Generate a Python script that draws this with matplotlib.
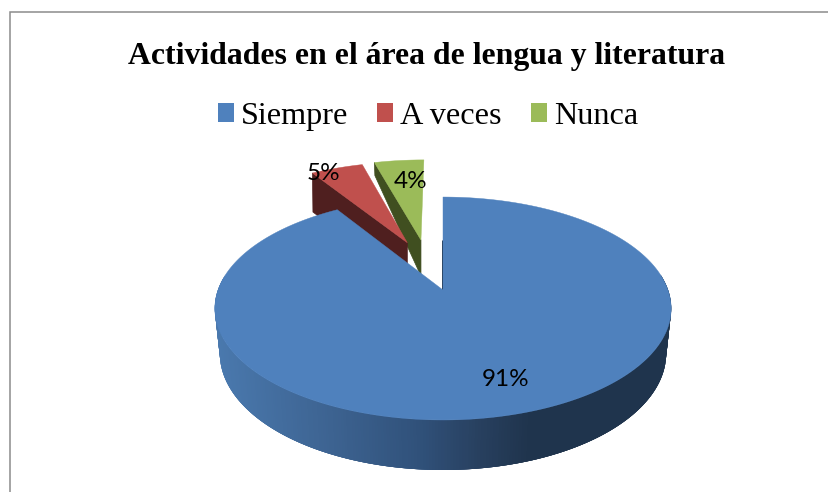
import numpy as np
import matplotlib
matplotlib.use("Agg")
import matplotlib.pyplot as plt
from matplotlib.patches import Polygon, Patch
from matplotlib.collections import PolyCollection
from matplotlib.colors import to_rgb

# --- data -------------------------------------------------------------
title = "Actividades en el área de lengua y literatura"
categories = ["Siempre", "A veces", "Nunca"]
values = [91.0, 4.6, 4.4]

# --- styles -----------------------------------------------------------
top_colors = ["#4f81bd", "#c0504d", "#9bbb59"]
wall_colors = ["#1f344d", "#4f1f1f", "#404f20"]
W, H = 829, 492
CX, CY = 443.0, 290.0      # pixel position of the pie centre
K = 0.166                  # perspective strength
AX, AY = 225.0, 108.4      # projected scale
EXPLODE_DIR = {1: 110.0, 2: 102.0}
EXPLODE = {1: 0.5, 2: 0.51}
WALL_DEPTH = {1: (39.0, 40.0), 2: (13.0, 36.0)}   # outer corner, apex
label_pos = [(506, 380), (323, 174), (411, 181)]


def project(u, v):
    u, v = np.asarray(u, float), np.asarray(v, float)
    d = 1 + K * v
    return CX + AX * u / d, CY - AY * v / d


def wall_drop(v):
    return 44.0 / (1 + 0.12 * np.asarray(v, float))


def arc(a0, a1, n=200):
    t = np.radians(np.linspace(a0, a1, n))
    return np.cos(t), np.sin(t)


fig = plt.figure(figsize=(W / 100, H / 100), dpi=100, facecolor="white")
ax = fig.add_axes([0, 0, 1, 1])
ax.set_xlim(0, W)
ax.set_ylim(H, 0)
ax.axis("off")

# slice angles from the values (clockwise from 12 o'clock)
total = sum(values)
ends = 90 - np.cumsum(values) / total * 360
starts = np.concatenate([[90], ends[:-1]])

# exploded slices: green first, then red (red in front)
for i in (2, 1):
    a_first = ends[i] + 360     # the slice's left-hand (counter-clockwise) edge
    a_last = starts[i]
    if i == 2:
        a_first, a_last = starts[i] + 0.0, ends[i]
    else:
        a_first, a_last = starts[i] + 0.0, ends[i]
    a_first, a_last = a_first % 360, a_last % 360
    left, right = max(a_first, a_last), min(a_first, a_last)
    d = np.radians(EXPLODE_DIR[i])
    ou, ov = EXPLODE[i] * np.cos(d), EXPLODE[i] * np.sin(d)
    cu, cv = arc(left, right, 40)
    px, py = project(ou + cu, ov + cv)
    ax0, ay0 = project(ou, ov)
    far, near = WALL_DEPTH[i]
    wall = [(px[0], py[0]), (ax0, ay0), (ax0, ay0 + near), (px[0] + 0.5, py[0] + far)]
    ax.add_patch(Polygon(wall, closed=True, fc=wall_colors[i], ec=wall_colors[i], lw=0.5,
                         joinstyle="round", zorder=2 + (2 - i) * 2))
    pts = [(ax0, ay0)] + list(zip(px, py))
    ax.add_patch(Polygon(pts, closed=True, fc=top_colors[i], ec=top_colors[i], lw=0.3,
                         zorder=3 + (2 - i) * 2))

# big slice: side wall with horizontal shading (overlapping strips, no seams)
grad_x = [215, 330, 420, 480, 530, 830]
grad_c = np.array([to_rgb(c) for c in ["#4a79ae", "#3d6391", "#30517a", "#28405f", "#1f344d", "#1f344d"]])
cu, cv = arc(172, 368, 300)
tx, ty = project(cu, cv)
bx = CX + (tx - CX) * 0.978
by = ty + wall_drop(cv)
quads, cols = [], []
for j in range(len(tx) - 1):
    e = min(j + 4, len(tx) - 1)
    quads.append(list(zip(tx[j:e + 1], ty[j:e + 1])) + list(zip(bx[j:e + 1], by[j:e + 1]))[::-1])
    xm = 0.5 * (tx[j] + tx[j + 1])
    cols.append([np.interp(xm, grad_x, grad_c[:, k]) for k in range(3)])
ax.add_collection(PolyCollection(quads, facecolors=cols, edgecolors="none", linewidths=0, zorder=8))

# big slice: top face
cu, cv = arc(starts[0], ends[0], 500)
px, py = project(cu, cv)
ax0, ay0 = project(0, 0)
ax.add_patch(Polygon([(ax0, ay0)] + list(zip(px, py)), closed=True, fc=top_colors[0],
                     ec=top_colors[0], lw=0.3, zorder=9))
# thin visible cut face along the 12 o'clock edge
lx, ly = project([0, 0], [0, 0.5])
ax.plot(np.array(lx) - 0.6, ly, color=wall_colors[0], lw=0.7, zorder=8.5, solid_capstyle="butt")

# labels
for v, (lxp, lyp) in zip(values, label_pos):
    ax.text(lxp, lyp, f"{v:.0f}%", ha="center", va="center", fontsize=17.5,
            family="Lato", color="black", zorder=12)

# title, legend, frame
ax.text(427, 64, title, ha="center", va="baseline", fontsize=22.9, fontweight="bold",
        family="Liberation Serif", color="black")
handles = [Patch(fc=c, ec=c, lw=0) for c in top_colors]
ax.legend(handles, categories, ncol=3, loc="center", bbox_to_anchor=(428, 116.5),
          bbox_transform=ax.transData, frameon=False,
          prop={"family": "Liberation Serif", "size": 23.2},
          handlelength=0.5, handleheight=0.5, handletextpad=0.22,
          columnspacing=0.9, borderpad=0, labelspacing=0)
ax.plot([10.5, 10.5, W], [H, 11.5, 11.5], color="#8c8c8c", lw=1.1, solid_joinstyle="miter", zorder=1)

fig.savefig("out.png", dpi=100)
